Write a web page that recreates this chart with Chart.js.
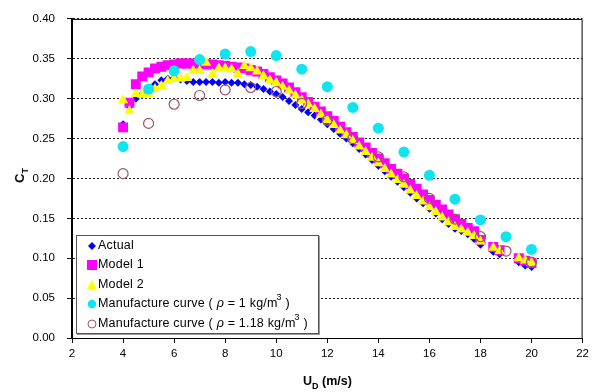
<!DOCTYPE html>
<html>
<head>
<meta charset="utf-8">
<script src="https://cdn.jsdelivr.net/npm/chart.js@4/dist/chart.umd.min.js"></script>
<style>
  body { margin: 0; background: #fff; font-family: Arial, "Liberation Sans", sans-serif; }
  #wrap { position: relative; width: 593px; height: 392px; }
  #leg { position: absolute; left: 76px; top: 235px; width: 241px; height: 97px; border: 1px solid #555;
         background: #fff; font-size: 12.5px; letter-spacing: 0.2px; color: #000; box-shadow: 1px 1px 0 #999; }
  .row { position: absolute; left: 0; height: 19px; width: 240px; }
  .row svg { position: absolute; left: 10px; top: 5px; }
  .row span { position: absolute; left: 21px; top: 0; line-height: 19px; white-space: nowrap; }
  .row sup { font-size: 9px; line-height: 0; vertical-align: 7px; margin-left: -1px; }
  .yt { position: absolute; left: 12px; top: 168px; font-weight: bold; font-size: 13px; transform: rotate(-90deg); }
  .xt { position: absolute; left: 303px; top: 374px; font-weight: bold; font-size: 12.5px; }
  sub { font-size: 9px; line-height: 0; }
</style>
</head>
<body>
<div id="wrap">
  <canvas id="c" width="593" height="392"></canvas>
  <div class="yt">C<sub>T</sub></div>
  <div class="xt">U<sub>D</sub> (m/s)</div>
  <div id="leg">
    <div class="row" style="top:0px"><svg width="10" height="10"><polygon points="5,1 9,5 5,9 1,5" fill="#0000ff"/></svg><span>Actual</span></div>
    <div class="row" style="top:19px"><svg width="10" height="10"><rect x="0" y="0" width="10" height="10" fill="#ff00ff"/></svg><span>Model 1</span></div>
    <div class="row" style="top:39px"><svg width="10" height="10"><polygon points="5,0 10,9 0,9" fill="#ffff00"/></svg><span>Model 2</span></div>
    <div class="row" style="top:58px"><svg width="10" height="10"><circle cx="5" cy="5" r="4.3" fill="#10e4ef"/></svg><span>Manufacture curve ( <i>ρ</i> = 1 kg/m<sup>3</sup> )</span></div>
    <div class="row" style="top:78px"><svg width="10" height="10"><circle cx="5" cy="5" r="4" fill="none" stroke="#a0506e" stroke-width="1"/></svg><span>Manufacture curve ( <i>ρ</i> = 1.18 kg/m<sup>3</sup> )</span></div>
  </div>
</div>
<script>
// measured wind speed bins (m/s)
const windBins = [4, 4.25, 4.5, 4.75, 5, 5.25, 5.5, 5.75, 6, 6.25, 6.5, 6.75, 7, 7.25, 7.5, 7.75,
  8, 8.25, 8.5, 8.75, 9, 9.25, 9.5, 9.75, 10, 10.25, 10.5, 10.75, 11, 11.25, 11.5, 11.75,
  12, 12.25, 12.5, 12.75, 13, 13.25, 13.5, 13.75, 14, 14.25, 14.5, 14.75, 15, 15.25, 15.5, 15.75,
  16, 16.25, 16.5, 16.75, 17, 17.25, 17.5, 17.75, 18, 18.5, 18.75, 19.5, 19.75, 20];

const ctActual = [0.268, 0.290, 0.300, 0.306, 0.312, 0.318, 0.323, 0.325, 0.326, 0.324, 0.322, 0.321, 0.321, 0.321, 0.321, 0.320,
  0.321, 0.320, 0.320, 0.318, 0.317, 0.315, 0.312, 0.309, 0.306, 0.302, 0.297, 0.292, 0.287, 0.283, 0.279, 0.274,
  0.268, 0.262, 0.256, 0.250, 0.244, 0.237, 0.230, 0.223, 0.216, 0.209, 0.202, 0.196, 0.189, 0.182, 0.175, 0.169,
  0.162, 0.156, 0.149, 0.143, 0.137, 0.134, 0.130, 0.124, 0.117, 0.108, 0.105, 0.095, 0.091, 0.089];

const ctModel1 = [0.264, 0.295, 0.318, 0.328, 0.333, 0.338, 0.340, 0.342, 0.343, 0.344, 0.344, 0.344, 0.344, 0.343, 0.343, 0.342,
  0.341, 0.340, 0.339, 0.338, 0.336, 0.334, 0.331, 0.327, 0.323, 0.319, 0.314, 0.308, 0.302, 0.296, 0.290, 0.284,
  0.278, 0.272, 0.265, 0.258, 0.252, 0.245, 0.239, 0.232, 0.225, 0.219, 0.212, 0.206, 0.200, 0.193, 0.187, 0.180,
  0.173, 0.167, 0.161, 0.155, 0.149, 0.143, 0.138, 0.134, 0.123, 0.114, 0.110, 0.100, 0.097, 0.094];

const ctModel2 = [0.298, 0.285, 0.306, 0.305, 0.306, 0.312, 0.316, 0.322, 0.325, 0.325, 0.326, 0.335, 0.335, 0.345, 0.331, 0.338,
  0.338, 0.337, 0.331, 0.341, 0.338, 0.334, 0.328, 0.323, 0.320, 0.315, 0.310, 0.304, 0.298, 0.293, 0.287, 0.280,
  0.273, 0.267, 0.260, 0.254, 0.247, 0.240, 0.233, 0.226, 0.219, 0.212, 0.205, 0.198, 0.192, 0.185, 0.178, 0.171,
  0.164, 0.158, 0.151, 0.145, 0.139, 0.136, 0.132, 0.128, 0.121, 0.113, 0.109, 0.100, 0.097, 0.094];

// manufacturer curves, integer wind speeds
const windMfr = [4, 5, 6, 7, 8, 9, 10, 11, 12, 13, 14, 15, 16, 17, 18, 19, 20];
const ctMfr100 = [0.240, 0.312, 0.335, 0.349, 0.356, 0.359, 0.354, 0.337, 0.315, 0.289, 0.263, 0.233, 0.204, 0.174, 0.148, 0.127, 0.111];
const ctMfr118 = [0.206, 0.269, 0.293, 0.304, 0.311, 0.314, 0.309, 0.294, 0.273, 0.250, 0.227, 0.202, 0.175, 0.149, 0.127, 0.109, 0.095];

const xTicks = [2, 4, 6, 8, 10, 12, 14, 16, 18, 20, 22];

const pts = (xs, ys) => xs.map((x, i) => ({ x, y: ys[i] }));

// solid top + right edge of the plot area
const frame = {
  id: 'frame',
  afterDraw(chart) {
    const { ctx, chartArea: a } = chart;
    ctx.save();
    ctx.strokeStyle = '#000';
    ctx.lineWidth = 1;
    ctx.beginPath();
    ctx.moveTo(a.left, a.top + 0.5);
    ctx.lineTo(a.right - 0.5, a.top + 0.5);
    ctx.lineTo(a.right - 0.5, a.bottom);
    ctx.stroke();
    ctx.restore();
  }
};

const font = { family: 'Arial, "Liberation Sans", sans-serif', size: 11.5 };

new Chart(document.getElementById('c'), {
  type: 'scatter',
  data: {
    datasets: [
      { label: 'Actual', data: pts(windBins, ctActual), pointStyle: 'rectRot', pointRadius: 4,
        backgroundColor: '#0000ff', borderColor: '#0000ff', borderWidth: 0, order: 5 },
      { label: 'Model 1', data: pts(windBins, ctModel1), pointStyle: 'rect', pointRadius: 7,
        backgroundColor: '#ff00ff', borderColor: '#ff00ff', borderWidth: 0, order: 4 },
      { label: 'Model 2', data: pts(windBins, ctModel2), pointStyle: 'triangle', pointRadius: 6,
        backgroundColor: '#ffff00', borderColor: '#ffff00', borderWidth: 0, order: 3 },
      { label: 'Manufacture curve (rho = 1)', data: pts(windMfr, ctMfr100), pointStyle: 'circle', pointRadius: 5.5,
        backgroundColor: '#10e4ef', borderColor: '#10e4ef', borderWidth: 0, order: 2 },
      { label: 'Manufacture curve (rho = 1.18)', data: pts(windMfr, ctMfr118), pointStyle: 'circle', pointRadius: 5,
        backgroundColor: 'rgba(0,0,0,0)', borderColor: '#a0506e', borderWidth: 1.2, order: 1 },
    ]
  },
  options: {
    responsive: false,
    animation: false,
    layout: { padding: { top: 14, right: 9, left: 0, bottom: 0 } },
    plugins: { legend: { display: false }, tooltip: { enabled: false } },
    scales: {
      x: {
        type: 'linear', min: 2, max: 22,
        afterFit: (s) => { s.height = 54; },
        afterBuildTicks: (s) => { s.ticks = xTicks.map(v => ({ value: v })); },
        ticks: { color: '#000', font, padding: 4, maxRotation: 0 },
        grid: { drawOnChartArea: false, drawTicks: true, tickLength: 5, tickColor: '#000' },
        border: { color: '#000', width: 1 }
      },
      y: {
        min: 0, max: 0.4,
        afterFit: (s) => { s.width = 72; },
        ticks: { stepSize: 0.05, color: '#000', font, padding: 12, callback: v => v.toFixed(2) },
        grid: { color: '#222', lineWidth: 1, tickBorderDash: [], tickLength: 5, tickColor: '#000' },
        border: { color: '#000', width: 2, dash: [2, 2] }
      }
    }
  },
  plugins: [frame]
});
</script>
</body>
</html>
